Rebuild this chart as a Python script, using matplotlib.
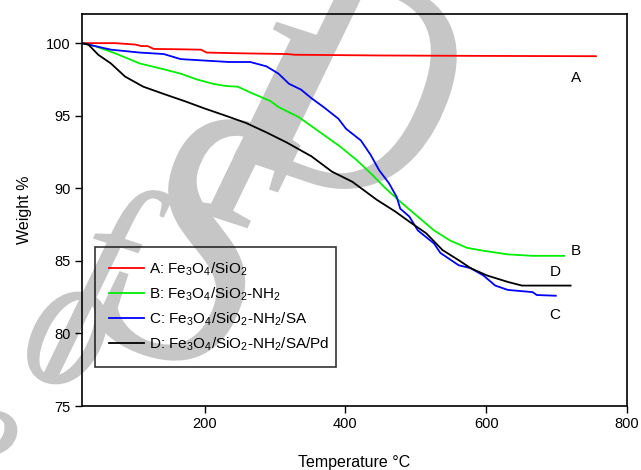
import matplotlib
matplotlib.use("Agg")
import numpy as np
import matplotlib.pyplot as plt
from matplotlib.textpath import TextPath
from matplotlib.font_manager import FontProperties
from matplotlib.patches import PathPatch
from matplotlib.transforms import Affine2D

plt.rcParams['font.family'] = ['Liberation Sans', 'DejaVu Sans']
plt.rcParams['mathtext.fontset'] = 'custom'
plt.rcParams['mathtext.rm'] = 'Liberation Sans'
plt.rcParams['mathtext.it'] = 'Liberation Sans:italic'

# curvas TGA (temperatura en °C, peso en %)
temp_a = [26, 73, 102, 110, 119, 128, 160, 195, 203, 250, 317, 328, 450, 600, 756]
weight_a = [100, 100, 99.9, 99.8, 99.8, 99.6, 99.58, 99.55, 99.35, 99.3, 99.25, 99.2, 99.15, 99.12, 99.1]

temp_b = [26, 44, 73, 108, 142, 166, 189, 212, 230, 247, 270, 294, 305, 334, 363, 392, 416,
          439, 456, 480, 503, 526, 549, 573, 596, 631, 666, 711]
weight_b = [100, 99.8, 99.3, 98.6, 98.2, 97.9, 97.5, 97.2, 97.05, 97.0, 96.5, 96.0, 95.6, 94.9,
            93.9, 92.9, 91.95, 90.9, 90.05, 89.0, 88.05, 87.1, 86.4, 85.9, 85.7, 85.45, 85.35, 85.35]

temp_c = [26, 67, 108, 142, 166, 200, 235, 265, 288, 305, 320, 337, 352, 369, 390, 401, 422,
          436, 448, 462, 473, 478, 491, 503, 526, 535, 561, 578, 596, 613, 631, 666, 672, 699]
weight_c = [100, 99.55, 99.35, 99.25, 98.9, 98.8, 98.7, 98.7, 98.4, 97.9, 97.2, 96.8, 96.2,
            95.6, 94.8, 94.1, 93.3, 92.3, 91.25, 90.35, 89.4, 88.6, 88.05, 87.1, 86.2, 85.55,
            84.7, 84.5, 84.0, 83.3, 83.0, 82.85, 82.65, 82.6]

temp_d = [26, 35, 49, 67, 87, 113, 142, 172, 200, 230, 259, 288, 317, 352, 381, 410, 445,
          471, 491, 515, 538, 561, 578, 601, 631, 651, 720]
weight_d = [100, 99.9, 99.2, 98.6, 97.7, 97.0, 96.5, 96.0, 95.5, 95.0, 94.5, 93.85, 93.15,
            92.2, 91.15, 90.45, 89.2, 88.4, 87.7, 86.9, 85.75, 85.05, 84.5, 84.0, 83.55, 83.3, 83.3]

legend_labels = [r'A: Fe$_3$O$_4$/SiO$_2$',
                 r'B: Fe$_3$O$_4$/SiO$_2$-NH$_2$',
                 r'C: Fe$_3$O$_4$/SiO$_2$-NH$_2$/SA',
                 r'D: Fe$_3$O$_4$/SiO$_2$-NH$_2$/SA/Pd']
curve_tags = ['A', 'B', 'C', 'D']
tag_x = [728, 728, 698, 698]
tag_y = [97.6, 85.7, 81.25, 84.25]
x_ticks = [200, 400, 600, 800]
y_ticks = [75, 80, 85, 90, 95, 100]

# marca de agua "...e of SID": letra, centro (px desde arriba-izquierda), escala
wm_chars = ['e', 'o', 'f', 'S', 'I', 'D']
wm_cx = [-20, 67, 108, 198, 262, 345]
wm_cy = [455, 338, 285, 240, 125, 75]
wm_scale = [0.6, 0.62, 0.7, 1.15, 0.95, 1.0]

W, H = 641, 470
fig = plt.figure(figsize=(W / 100, H / 100), dpi=100)
ax = fig.add_axes([0.128, 0.136, 0.850, 0.834])
ax.patch.set_alpha(0)

fp = FontProperties(family=['Liberation Serif', 'DejaVu Serif'], style='italic')
rot = np.radians(-18)
ex, ey = 260, 330
glyph_m = np.array([[ex * np.cos(rot), -ey * np.sin(rot), 0],
                    [ex * np.sin(rot), ey * np.cos(rot), 0],
                    [0, 0, 1]])
for ch, cx, cy, s in zip(wm_chars, wm_cx, wm_cy, wm_scale):
    p = TextPath((0, 0), ch, size=1, prop=fp)
    p = Affine2D(glyph_m).scale(s).transform_path(p)
    ext = p.get_extents()
    dx = cx - (ext.x0 + ext.x1) / 2
    dy = (H - cy) - (ext.y0 + ext.y1) / 2
    fig.add_artist(PathPatch(p, transform=Affine2D().translate(dx, dy),
                             facecolor='#c6c6c6', edgecolor='none', zorder=-1))

ax.plot(temp_a, weight_a, color='#ff0000', lw=1.3, label=legend_labels[0])
ax.plot(temp_b, weight_b, color='#00ee00', lw=1.3, label=legend_labels[1])
ax.plot(temp_c, weight_c, color='#0000ff', lw=1.3, label=legend_labels[2])
ax.plot(temp_d, weight_d, color='#000000', lw=1.3, label=legend_labels[3])

for tag, tx, ty in zip(curve_tags, tag_x, tag_y):
    ax.text(tx, ty, tag, fontsize=11, ha='center', va='center')

ax.set_xlim(26, 800)
ax.set_ylim(75, 102)
ax.set_xticks(x_ticks)
ax.set_yticks(y_ticks)
ax.tick_params(direction='out', length=5, width=1, labelsize=10.5, pad=3)
for s in ax.spines.values():
    s.set_linewidth(1.2)

ax.set_xlabel('Temperature °C', fontsize=11.5, labelpad=17)
ax.set_ylabel('Weight %', fontsize=11.5, labelpad=10)

leg = ax.legend(loc='lower left', bbox_to_anchor=(0.024, 0.10, 0.443, 0.31), mode='expand',
                fontsize=11, frameon=True, fancybox=False, edgecolor='black',
                handlelength=2.3, handletextpad=0.3, borderpad=0.9, borderaxespad=0,
                labelspacing=0.5)
leg.get_frame().set_facecolor('none')
leg.get_frame().set_linewidth(1.2)

fig.savefig('out.png', dpi=100)
